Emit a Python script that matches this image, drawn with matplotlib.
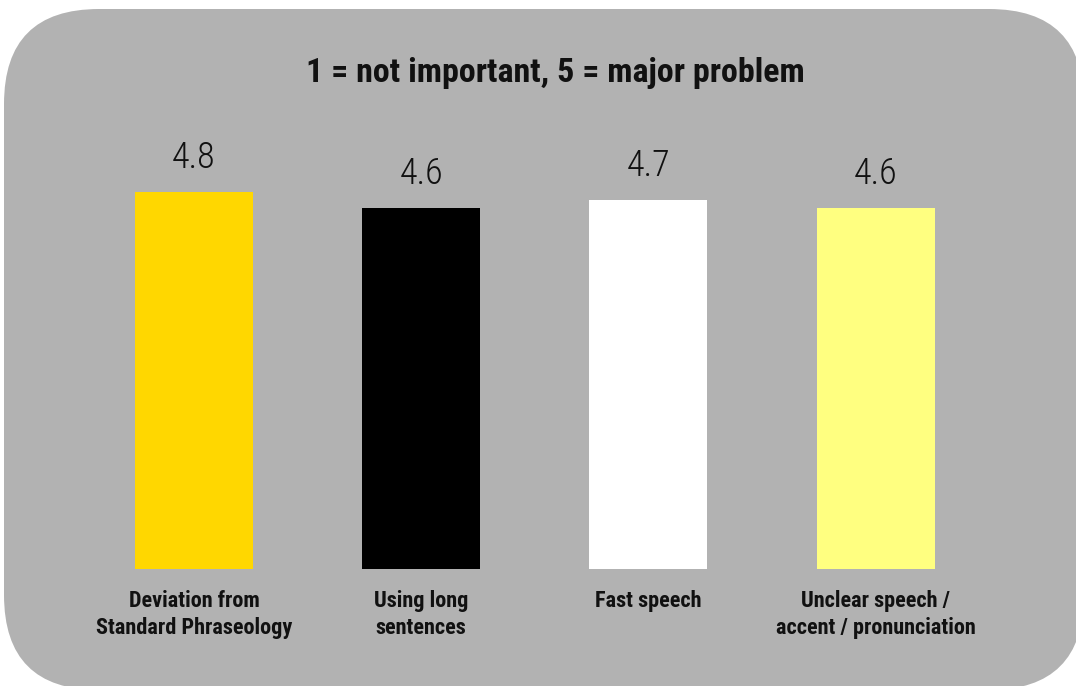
import matplotlib
matplotlib.use("Agg")
import matplotlib.pyplot as plt
from matplotlib import font_manager
from matplotlib.patches import FancyBboxPatch

# Survey data: average rating per issue
categories = ["Deviation from\nStandard Phraseology", "Using long\nsentences",
              "Fast speech", "Unclear speech /\naccent / pronunciation"]
values = [4.8, 4.6, 4.7, 4.6]
value_labels = ["4.8", "4.6", "4.7", "4.6"]
bar_colors = ["#FFD700", "#000000", "#FFFFFF", "#FFFF80"]
title = "1 = not important, 5 = major problem"

installed = {f.name for f in font_manager.fontManager.ttflist}
narrow = [n for n in ["Roboto Condensed", "Liberation Sans Narrow"] if n in installed]
bold_family = narrow + ["Roboto", "DejaVu Sans"]
light_family = narrow + ["Roboto", "DejaVu Sans"]

W, H, DPI = 1076, 686, 100
fig = plt.figure(figsize=(W / DPI, H / DPI), dpi=DPI)
fig.patch.set_facecolor("white")

# Rounded grey panel behind the chart (pixel units)
x0, y0, x1, y1 = 4, -4, 1084, 677
panel = FancyBboxPatch((x0, y0), x1 - x0, y1 - y0,
                       boxstyle="round,pad=0,rounding_size=95",
                       transform=None, facecolor="#B2B2B2", edgecolor="none",
                       zorder=-5)
fig.patches.append(panel)

ax = fig.add_axes([80.3 / W, (H - 569) / H, 909 / W, (569 - 176.5) / H])
ax.set_zorder(2)
ax.set_facecolor("none")
x = range(len(values))
bars = ax.bar(x, values, width=0.519, color=bar_colors, zorder=2)
ax.set_xlim(-0.5, 3.5)
ax.set_ylim(0, 5)
for s in ax.spines.values():
    s.set_visible(False)
ax.set_yticks([])
ax.set_xticks([])

for i, (v, lab) in enumerate(zip(values, value_labels)):
    ax.annotate(lab, (i, v), xytext=(0, 17.3), textcoords="offset points",
                ha="center", va="baseline", fontsize=26, family=light_family,
                fontweight="light", color="#111111", annotation_clip=False)

for i, c in enumerate(categories):
    ax.annotate(c, (i, 0), xytext=(0, -15), textcoords="offset points",
                ha="center", va="top", fontsize=16, family=bold_family,
                fontweight="bold", color="#111111", linespacing=1.3,
                annotation_clip=False)

fig.text(555 / W, (H - 82) / H, title, ha="center", va="baseline",
         fontsize=24.5, family=bold_family, fontweight="bold", color="#111111")

fig.savefig("out.png", dpi=DPI)
